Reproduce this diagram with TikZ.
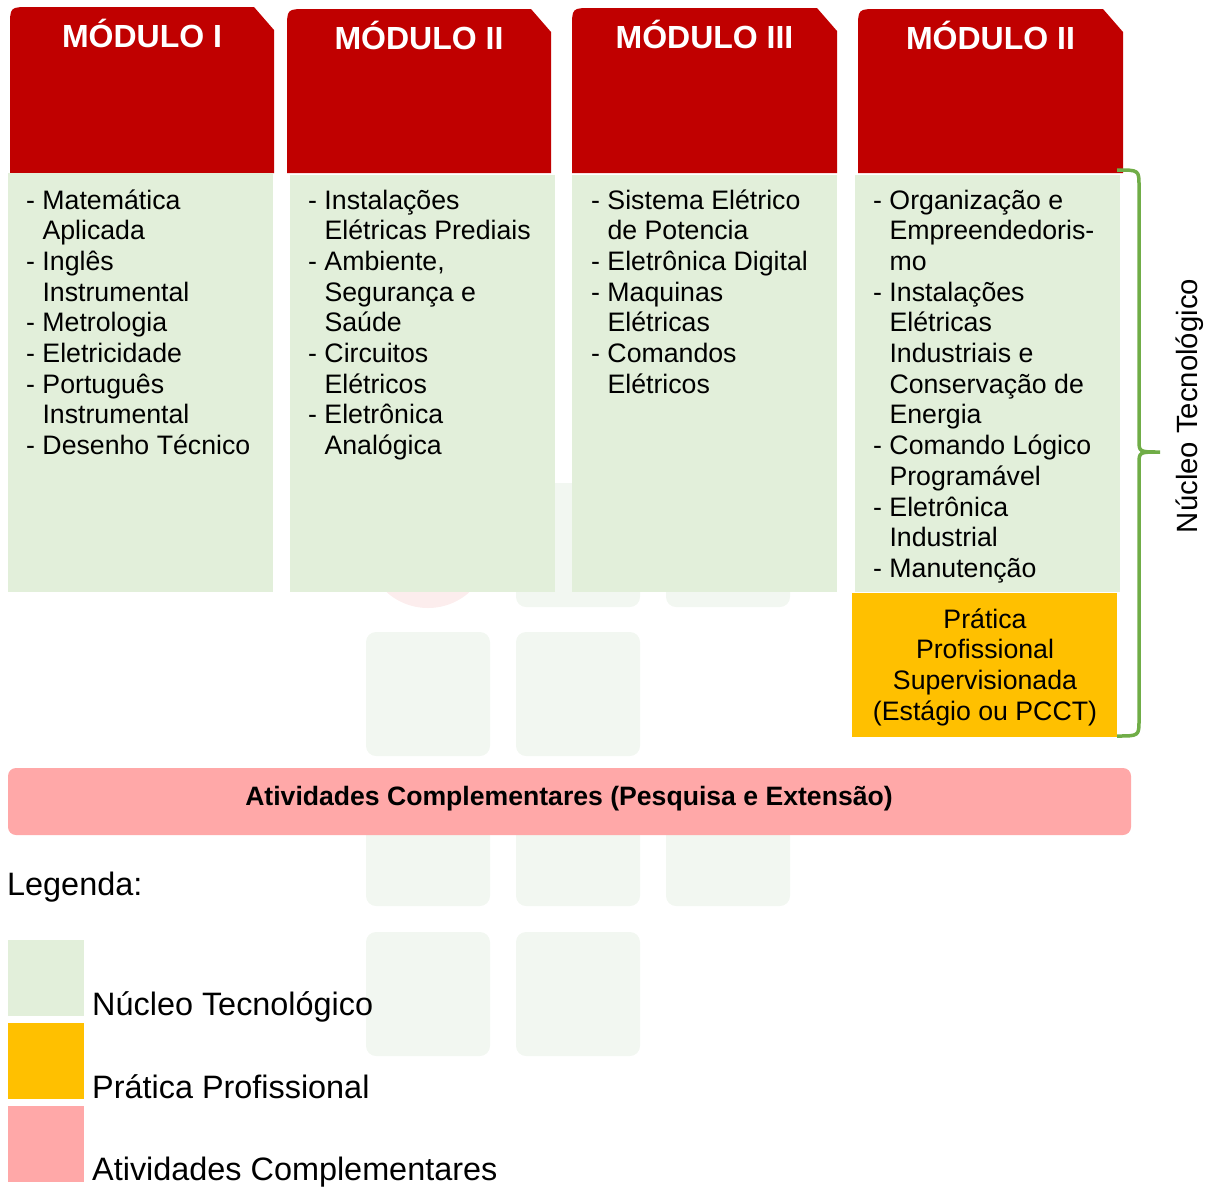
\documentclass[tikz,border=0pt]{standalone}
\usepackage{fontspec}
\setmainfont{Liberation Sans}
\definecolor{hdr}{HTML}{C00000}
\definecolor{core}{HTML}{E2EFDA}
\definecolor{prat}{HTML}{FFC000}
\definecolor{compl}{HTML}{FFA8A8}
\definecolor{brace}{HTML}{70AD47}
\definecolor{wmg}{HTML}{F2F7F1}
\definecolor{wmr}{HTML}{FCEDED}
\newcommand\lstfont{\fontsize{26.7pt}{30.7pt}\selectfont}
\newcommand\hdrbox[6]{%
  \fill[hdr] (#1,#4) -- (#1,#3+20) .. controls (#1,#3) .. (#1+20,#3) -- (#2-20,#3) -- (#2,#3+23) -- (#2,#4) -- cycle;
  \node[hdrtxt] (#5) at ({(#1+#2)/2},#3+40) {#6};}
\newcommand\ind{\phantom{- }}
\tikzset{
  hdrtxt/.style={text=white, font=\fontsize{32pt}{38pt}\selectfont\bfseries, inner sep=0pt, anchor=base},
  lsttxt/.style={inner sep=0pt, anchor=base west, font=\lstfont},
  wmsq/.style={fill=wmg, rounded corners=10pt},
  legtxt/.style={inner sep=0pt, anchor=base west, font=\fontsize{32.4pt}{38pt}\selectfont},
}
\begin{document}
\begin{tikzpicture}[x=1pt,y=-1pt]
\useasboundingbox (0,0) rectangle (1210,1187);
% watermark
\fill[wmr] (428,546) circle (62);
\foreach \cx/\cy in {516/483,666/483,366/632,516/632,366/782,516/782,666/782,366/932,516/932}
  \fill[wmsq] (\cx,\cy) rectangle ++(124,124);
% headers
\hdrbox{10}{274}{7}{173}{h1}{MÓDULO I}
\hdrbox{287}{551}{9}{173}{h2}{MÓDULO II}
\hdrbox{572}{837}{8}{173}{h3}{MÓDULO III}
\hdrbox{858}{1123}{9}{173}{h4}{MÓDULO II}
% bodies
\fill[core] (8,173) rectangle (273,592);
\fill[core] (290,175) rectangle (555,592);
\fill[core] (572,175) rectangle (837,592);
\fill[core] (855,175) rectangle (1120,592);
\fill[prat] (852,593) rectangle (1117,737);
% lists
\node[lsttxt] (l1) at (26,209) {\begin{tabular}[t]{@{}l@{}}
- Matemática\\ \ind Aplicada\\ - Inglês\\ \ind Instrumental\\ - Metrologia\\ - Eletricidade\\
- Português\\ \ind Instrumental\\ - Desenho Técnico\end{tabular}};
\node[lsttxt] (l2) at (308,209) {\begin{tabular}[t]{@{}l@{}}
- Instalações\\ \ind Elétricas Prediais\\ - Ambiente,\\ \ind Segurança e\\ \ind Saúde\\
- Circuitos\\ \ind Elétricos\\ - Eletrônica\\ \ind Analógica\end{tabular}};
\node[lsttxt] (l3) at (591,209) {\begin{tabular}[t]{@{}l@{}}
- Sistema Elétrico\\ \ind de Potencia\\ - Eletrônica Digital\\ - Maquinas\\ \ind Elétricas\\
- Comandos\\ \ind Elétricos\end{tabular}};
\node[lsttxt] (l4) at (873,209) {\begin{tabular}[t]{@{}l@{}}
- Organização e\\ \ind Empreendedoris-\\ \ind mo\\ - Instalações\\ \ind Elétricas\\
\ind Industriais e\\ \ind Conservação de\\ \ind Energia\\ - Comando Lógico\\ \ind Programável\\
- Eletrônica\\ \ind Industrial\\ - Manutenção\end{tabular}};
\node[inner sep=0pt, anchor=base, font=\lstfont] (pp) at (985,628) {\begin{tabular}[t]{@{}c@{}}
Prática\\ Profissional\\ Supervisionada\\ (Estágio ou PCCT)\end{tabular}};
% brace
\coordinate (bt) at (1117,170);
\coordinate (bm) at (1160,452);
\coordinate (bb) at (1117,736);
\draw[brace, line width=3.5pt] (bt) .. controls (1139,170) .. (1139,186) -- (1139,440)
  .. controls (1139,452) .. (bm) .. controls (1139,452) .. (1139,464) -- (1139,720)
  .. controls (1139,736) .. (bb);
\node[rotate=90, inner sep=0pt, font=\fontsize{29.3pt}{34pt}\selectfont] (nt) at (1190,406) {Núcleo Tecnológico};
% complementary bar
\fill[compl, rounded corners=8pt] (8,768) rectangle (1131,835);
\node[inner sep=0pt, anchor=base, font=\fontsize{26.6pt}{32pt}\selectfont\bfseries] (ac) at (569,805) {Atividades Complementares (Pesquisa e Extensão)};
% legend
\node[legtxt] (lg) at (7,895) {Legenda:};
\fill[core] (8,940) rectangle (84,1016);
\fill[prat] (8,1023) rectangle (84,1099);
\fill[compl] (8,1106) rectangle (84,1182);
\node[legtxt] (lg1) at (92,1015) {Núcleo Tecnológico};
\node[legtxt] (lg2) at (92,1098) {Prática Profissional};
\node[legtxt] (lg3) at (92,1180) {Atividades Complementares};
\end{tikzpicture}
\end{document}
